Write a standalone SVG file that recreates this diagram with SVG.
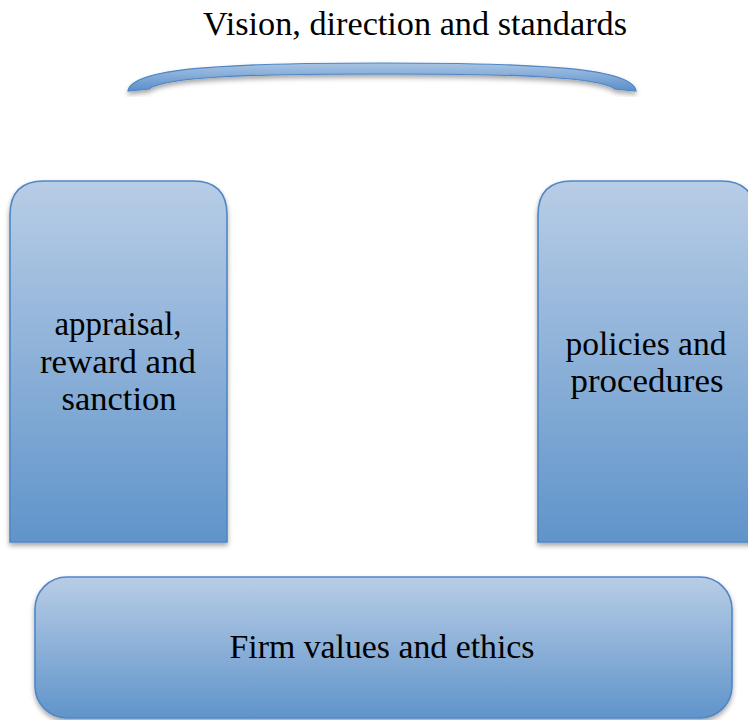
<svg xmlns="http://www.w3.org/2000/svg" width="748" height="720" viewBox="0 0 748 720">
<style>
.lbl{font-family:"Liberation Serif","Times New Roman",serif;font-size:34px;fill:#000;text-anchor:middle}
.box{stroke:#4f86c6;stroke-width:1.6}
</style>
<defs>
<linearGradient id="g" x1="0" y1="0" x2="0" y2="1">
<stop offset="0" stop-color="#b8cde6"/>
<stop offset="1" stop-color="#6094ca"/>
</linearGradient>
<linearGradient id="ga" x1="0" y1="0" x2="0" y2="1">
<stop offset="0" stop-color="#a9c4e3"/>
<stop offset="1" stop-color="#5a8fcb"/>
</linearGradient>
<filter id="sh" x="-10%" y="-10%" width="120%" height="130%">
<feDropShadow dx="0" dy="3" stdDeviation="2.5" flood-color="#000" flood-opacity="0.35"/>
</filter>
</defs>
<rect width="748" height="720" fill="#fff"/>
<g id="title">
<text class="lbl" x="415" y="35" textLength="424" lengthAdjust="spacingAndGlyphs">Vision, direction and standards</text>
</g>
<g id="arc">
<path d="M128,91 C131,68 224,63 382,63 C540,63 633,68 636,91 L615,89 C600,77 520,74 382,74 C244,74 164,77 149,89 Z" fill="url(#ga)" stroke="#4f86c6" stroke-width="1.2" filter="url(#sh)"/>
</g>
<g id="left-pillar">
<path class="box" d="M10,542 L10,215 Q10,181 44,181 L193,181 Q227,181 227,215 L227,542 Z" fill="url(#g)" filter="url(#sh)"/>
<text class="lbl" x="118" y="335" textLength="127" lengthAdjust="spacingAndGlyphs">appraisal,</text>
<text class="lbl" x="118" y="373" textLength="156" lengthAdjust="spacingAndGlyphs">reward and</text>
<text class="lbl" x="119" y="410" textLength="115" lengthAdjust="spacingAndGlyphs">sanction</text>
</g>
<g id="right-pillar">
<path class="box" d="M538,542 L538,215 Q538,181 572,181 L721,181 Q755,181 755,215 L755,542 Z" fill="url(#g)" filter="url(#sh)"/>
<text class="lbl" x="646" y="355" textLength="161" lengthAdjust="spacingAndGlyphs">policies and</text>
<text class="lbl" x="647" y="392" textLength="153" lengthAdjust="spacingAndGlyphs">procedures</text>
</g>
<g id="base">
<rect class="box" x="35" y="577" width="697" height="141" rx="32" ry="32" fill="url(#g)" filter="url(#sh)"/>
<text class="lbl" x="382" y="658" textLength="305" lengthAdjust="spacingAndGlyphs">Firm values and ethics</text>
</g>
<g id="connectors"></g>
</svg>
